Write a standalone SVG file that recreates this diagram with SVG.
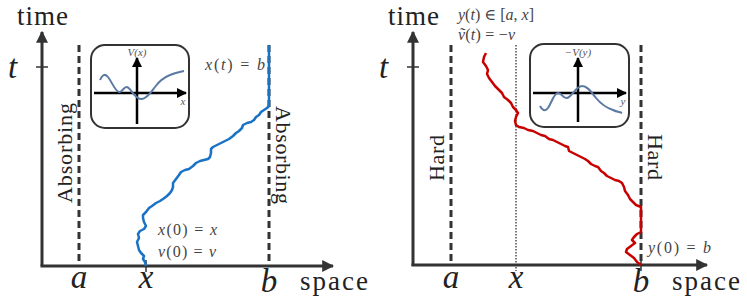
<svg xmlns="http://www.w3.org/2000/svg" width="747" height="304" viewBox="0 0 747 304">
<defs>
<style>
.ax{stroke:#333;stroke-width:3;fill:none}
.tk{stroke:#333;stroke-width:1.5;fill:none}
.dash{stroke:#333;stroke-width:3;stroke-dasharray:7 4;fill:none}
.dot{stroke:#333;stroke-width:1.3;stroke-dasharray:1.5 1.5;fill:none}
.box{stroke:#333;stroke-width:2;fill:#fff}
.iax{stroke:#000;stroke-width:2.5;fill:none}
.pot{stroke:#5b7aa3;stroke-width:2;fill:none}
.walkb{stroke:#1a72c4;stroke-width:2.5;fill:none;stroke-linejoin:round}
.walkr{stroke:#c80000;stroke-width:2.5;fill:none;stroke-linejoin:round}
.lbl{font-family:"Liberation Serif","DejaVu Serif",serif;fill:#222}
.it{font-style:italic}
.sm{font-family:"Liberation Serif","DejaVu Serif",serif;font-size:16px;fill:#444}
.tiny{font-family:"Liberation Serif","DejaVu Serif",serif;font-size:11px;fill:#555}
</style>
<marker id="ah" viewBox="0 0 10 10" refX="9" refY="5" markerWidth="4" markerHeight="4" orient="auto" markerUnits="strokeWidth">
<path d="M0,0 L10,5 L0,10 z" fill="#333"/>
</marker>
<marker id="ahi" viewBox="0 0 10 10" refX="9" refY="5" markerWidth="4" markerHeight="4" orient="auto" markerUnits="strokeWidth">
<path d="M0,0 L10,5 L0,10 z" fill="#000"/>
</marker>
</defs>

<!-- LEFT PANEL -->
<g id="left-axes">
<line class="ax" x1="42" y1="266" x2="42" y2="32" marker-end="url(#ah)"/>
<line class="ax" x1="40.5" y1="266" x2="333" y2="266" marker-end="url(#ah)"/>
<line class="tk" x1="36" y1="67" x2="48" y2="67"/>
<line class="tk" x1="146" y1="260" x2="146" y2="272"/>
<text class="lbl" x="17" y="25" font-size="27" textLength="51">time</text>
<text class="lbl it" x="8" y="78" font-size="33">t</text>
<text class="lbl" x="300" y="290" font-size="27" textLength="68">space</text>
<text class="lbl it" x="79" y="288" font-size="33" text-anchor="middle">a</text>
<text class="lbl it" x="146" y="288" font-size="33" text-anchor="middle">x</text>
<text class="lbl it" x="269" y="292" font-size="33" text-anchor="middle">b</text>
</g>

<g id="left-walls">
<line class="dash" x1="79" y1="45" x2="79" y2="266"/>
<line class="dash" x1="269" y1="45" x2="269" y2="266"/>
<text class="lbl" font-size="22" transform="translate(72,153) rotate(-90)" text-anchor="middle" textLength="100">Absorbing</text>
<text class="lbl" font-size="22" transform="translate(276,155) rotate(90)" text-anchor="middle" textLength="98">Absorbing</text>
</g>

<g id="left-inset">
<rect class="box" x="91" y="45" width="98" height="83" rx="14"/>
<line class="iax" x1="137" y1="124" x2="137" y2="58" marker-end="url(#ahi)"/>
<line class="iax" x1="94" y1="93" x2="186" y2="93" marker-end="url(#ahi)"/>
<path class="pot" d="M100,80 C102,75 105,73 108,77 C112,82 115,91 119,92 C122,93 124,86 127,87 C131,88 135,100 142,99 C148,98 151,92 155,87 C160,80 165,77 170,75 C175,73 180,72 184,71"/>
<text class="tiny it" x="137" y="56" text-anchor="middle">V(x)</text>
<text class="tiny it" x="183" y="105" text-anchor="middle">x</text>
</g>

<g id="left-walk">
<path class="walkb" d="M146,266 L145,262 L143,259 L144,256 L141,253 L139,250 L138,246 L137,242 L139,238 L138,234 L140,231 L144,229 L146,226 L144,222 L143,218 L143,215 L146,212 L149,208 L152,206 L156,203 L160,201 L163,199 L167,196 L170,193 L172,190 L173,187 L173,183 L176,179 L179,175 L181,172 L185,170 L189,169 L193,166 L196,163 L200,161 L204,160 L208,159 L210,157 L211,153 L211,149 L213,147 L217,145 L221,143 L225,141 L229,139 L233,136 L236,133 L239,131 L242,128 L243,125 L247,123 L251,122 L254,120 L256,117 L259,115 L261,112 L264,110 L267,108 L269,106 L269,45"/>
</g>

<g id="left-labels">
<text class="sm" x="205" y="70" textLength="60"><tspan class="it">x</tspan>(<tspan class="it">t</tspan>) = <tspan class="it">b</tspan></text>
<text class="sm" x="158" y="235" textLength="59"><tspan class="it">x</tspan>(0) = <tspan class="it">x</tspan></text>
<text class="sm" x="158" y="257" textLength="58"><tspan class="it">v</tspan>(0) = <tspan class="it">v</tspan></text>
</g>

<!-- RIGHT PANEL -->
<g id="right-axes">
<line class="ax" x1="413" y1="266" x2="413" y2="32" marker-end="url(#ah)"/>
<line class="ax" x1="411.5" y1="265" x2="707" y2="265" marker-end="url(#ah)"/>
<line class="tk" x1="407" y1="67" x2="419" y2="67"/>
<line class="tk" x1="641" y1="260" x2="641" y2="271"/>
<text class="lbl" x="388" y="25" font-size="27" textLength="51">time</text>
<text class="lbl it" x="379" y="78" font-size="33">t</text>
<text class="lbl" x="672" y="290" font-size="27" textLength="68">space</text>
<text class="lbl it" x="451" y="288" font-size="33" text-anchor="middle">a</text>
<text class="lbl it" x="516" y="288" font-size="33" text-anchor="middle">x</text>
<text class="lbl it" x="641" y="292" font-size="33" text-anchor="middle">b</text>
</g>

<g id="right-walls">
<line class="dash" x1="451" y1="45" x2="451" y2="265"/>
<line class="dash" x1="641" y1="45" x2="641" y2="265"/>
<line class="dot" x1="516" y1="45" x2="516" y2="271"/>
<text class="lbl" font-size="22" transform="translate(444,158) rotate(-90)" text-anchor="middle" textLength="46">Hard</text>
<text class="lbl" font-size="22" transform="translate(648,157) rotate(90)" text-anchor="middle" textLength="46">Hard</text>
</g>

<g id="right-inset">
<rect class="box" x="530" y="44" width="99" height="83" rx="14"/>
<line class="iax" x1="578" y1="122" x2="578" y2="58" marker-end="url(#ahi)"/>
<line class="iax" x1="533" y1="93" x2="626" y2="93" marker-end="url(#ahi)"/>
<path class="pot" d="M540,106 C542,110 545,112 548,108 C552,102 554,93 558,93 C562,93 563,99 567,98 C572,97 576,86 582,86 C588,86 592,93 596,98 C601,104 607,108 613,110 C617,112 620,112 622,113"/>
<text class="tiny it" x="578" y="56" text-anchor="middle">−V(y)</text>
<text class="tiny it" x="623" y="105" text-anchor="middle">y</text>
</g>

<g id="right-walk">
<path class="walkr" d="M486,53 L484,57 L483,62 L486,66 L488,70 L487,74 L489,78 L492,82 L495,86 L498,89 L502,93 L504,97 L508,100 L511,103 L513,107 L516,110 L518,113 L516,117 L515,121 L516,125 L519,127 L524,128 L528,130 L533,131 L537,133 L541,135 L545,136 L549,139 L553,140 L557,142 L561,144 L565,146 L568,147 L569,151 L573,153 L577,155 L581,157 L585,159 L588,161 L591,164 L595,166 L598,167 L601,171 L604,173 L607,176 L611,178 L615,180 L619,181 L622,183 L624,187 L625,191 L628,195 L630,199 L633,202 L636,205 L641,207 L641,232 L637,234 L634,237 L632,240 L635,243 L631,246 L627,249 L626,252 L630,255 L634,258 L637,262 L641,265"/>
</g>

<g id="right-labels">
<text class="sm" x="458" y="20" textLength="76"><tspan class="it">y</tspan>(<tspan class="it">t</tspan>) ∈ [<tspan class="it">a</tspan>, <tspan class="it">x</tspan>]</text>
<text class="sm" x="458" y="40" textLength="57"><tspan class="it">ṽ</tspan>(<tspan class="it">t</tspan>) = −<tspan class="it">v</tspan></text>
<text class="sm" x="648" y="253" textLength="63"><tspan class="it">y</tspan>(0) = <tspan class="it">b</tspan></text>
</g>
</svg>
